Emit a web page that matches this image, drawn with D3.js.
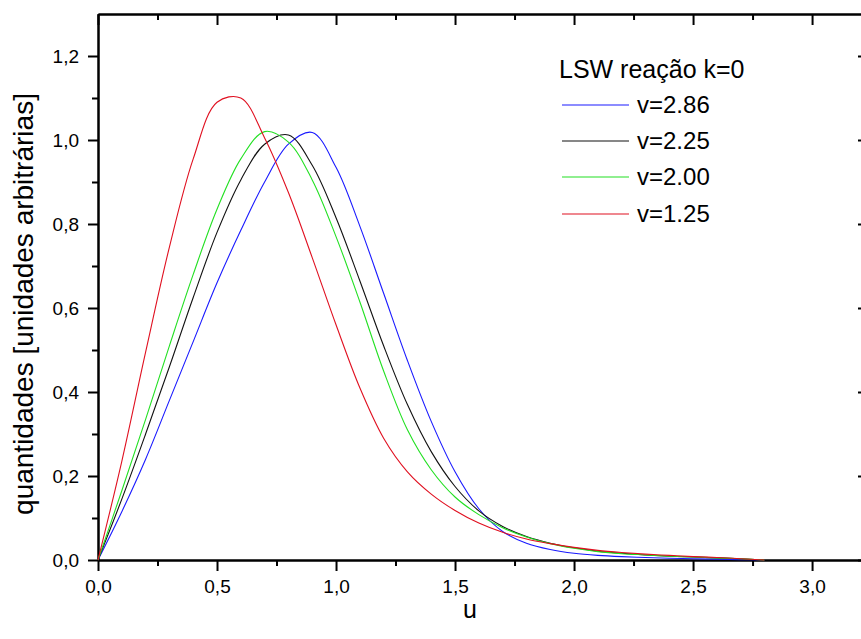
<!DOCTYPE html>
<html>
<head>
<meta charset="utf-8">
<script src="https://cdn.jsdelivr.net/npm/d3@7"></script>
<style>
  body { margin: 0; background: #fff; }
  svg { display: block; font-family: "Liberation Sans", Arial, sans-serif; }
  .axis path, .axis line { stroke: #000; stroke-width: 2; }
  .axis text { fill: #000; font-size: 19px; }
  .curve { fill: none; stroke-width: 1.1; }
</style>
</head>
<body>
<svg id="chart" width="861" height="639"></svg>
<script>
// u grid shared by all series
var uValues = [0, 0.1, 0.2, 0.3, 0.4, 0.5, 0.6, 0.7, 0.8, 0.9,
               1.0, 1.1, 1.2, 1.3, 1.4, 1.5, 1.6, 1.7, 1.8, 1.9,
               2.0, 2.1, 2.2, 2.3, 2.4, 2.5, 2.6, 2.7, 2.8];

// values
var v286 = [0, 0.115, 0.24, 0.38, 0.52, 0.66, 0.785, 0.90, 0.99, 1.018,
            0.935, 0.795, 0.635, 0.475, 0.33, 0.21, 0.122, 0.068, 0.040, 0.025,
            0.016, 0.011, 0.008, 0.006, 0.004, 0.003, 0.002, 0.001, 0];
var v225 = [0, 0.145, 0.30, 0.46, 0.625, 0.78, 0.905, 0.99, 1.012, 0.94,
            0.815, 0.665, 0.51, 0.37, 0.258, 0.175, 0.117, 0.080, 0.056, 0.040,
            0.029, 0.021, 0.016, 0.012, 0.009, 0.007, 0.005, 0.003, 0];
var v200 = [0, 0.165, 0.335, 0.51, 0.68, 0.835, 0.955, 1.02, 0.995, 0.905,
            0.77, 0.615, 0.45, 0.31, 0.215, 0.15, 0.108, 0.077, 0.055, 0.039,
            0.028, 0.020, 0.015, 0.012, 0.009, 0.007, 0.005, 0.003, 0];
var v125 = [0, 0.235, 0.495, 0.745, 0.955, 1.09, 1.10, 1.005, 0.875, 0.72,
            0.56, 0.41, 0.29, 0.21, 0.157, 0.118, 0.088, 0.066, 0.050, 0.039,
            0.030, 0.023, 0.018, 0.014, 0.011, 0.008, 0.006, 0.003, 0];

var seriesNames = ["v=2.86", "v=2.25", "v=2.00", "v=1.25"];
var seriesColors = ["#1a1aff", "#111111", "#22e022", "#e01020"];
var seriesValues = [v286, v225, v200, v125];

var xMajor = [0, 0.5, 1.0, 1.5, 2.0, 2.5, 3.0];
var xMinor = [0.25, 0.75, 1.25, 1.75, 2.25, 2.75];
var yMajor = [0, 0.2, 0.4, 0.6, 0.8, 1.0, 1.2];
var yMinor = [0.1, 0.3, 0.5, 0.7, 0.9, 1.1];

var legendTitle = "LSW reação k=0";
var xLabel = "u";
var yLabel = "quantidades [unidades arbitrárias]";

function drawChart() {
    var plotLeft = 98, plotRight = 868, plotTop = 14, plotBottom = 560;

    var svg = d3.select("#chart");

    var x = d3.scaleLinear().domain([0, 3.235]).range([plotLeft, plotRight]);
    var y = d3.scaleLinear().domain([0, 1.3]).range([plotBottom, plotTop]);

    // decimal comma
    var locale = d3.formatLocale({ decimal: ",", thousands: ".", grouping: [3], currency: ["", ""] });
    var fmt = locale.format(".1f");

    function addAxis(axis, tx, ty) {
        svg.append("g").attr("class", "axis")
            .attr("transform", "translate(" + tx + "," + ty + ")")
            .attr("font-size", null)
            .call(axis);
    }

    // bottom axis (outward ticks)
    addAxis(d3.axisBottom(x).tickValues(xMajor).tickSize(11).tickSizeOuter(0).tickPadding(9).tickFormat(fmt), 0, plotBottom);
    addAxis(d3.axisBottom(x).tickValues(xMinor).tickSize(6).tickSizeOuter(0).tickFormat(""), 0, plotBottom);

    // top axis (inward ticks)
    addAxis(d3.axisBottom(x).tickValues(xMajor).tickSize(11).tickSizeOuter(0).tickFormat(""), 0, plotTop);
    addAxis(d3.axisBottom(x).tickValues(xMinor).tickSize(6).tickSizeOuter(0).tickFormat(""), 0, plotTop);

    // left axis (outward ticks)
    addAxis(d3.axisLeft(y).tickValues(yMajor).tickSize(10).tickSizeOuter(0).tickPadding(9).tickFormat(fmt), plotLeft, 0);
    addAxis(d3.axisLeft(y).tickValues(yMinor).tickSize(6).tickSizeOuter(0).tickFormat(""), plotLeft, 0);

    // right axis (inward ticks), mostly off screen
    addAxis(d3.axisLeft(y).tickValues(yMajor).tickSize(10).tickSizeOuter(0).tickFormat(""), plotRight, 0);
    addAxis(d3.axisLeft(y).tickValues(yMinor).tickSize(6).tickSizeOuter(0).tickFormat(""), plotRight, 0);

    // curves
    var line = d3.line()
        .x(function (d, i) { return x(uValues[i]); })
        .y(function (d) { return y(d); })
        .curve(d3.curveCatmullRom.alpha(0.5));

    seriesValues.forEach(function (vals, i) {
        svg.append("path")
            .attr("class", "curve")
            .attr("d", line(vals))
            .attr("stroke", seriesColors[i]);
    });

    // legend
    svg.append("text")
        .attr("x", 559).attr("y", 78)
        .style("font-size", "25px")
        .text(legendTitle);

    var legendY = [105, 141, 177, 214];
    seriesNames.forEach(function (name, i) {
        svg.append("line")
            .attr("x1", 562).attr("x2", 629)
            .attr("y1", legendY[i]).attr("y2", legendY[i])
            .attr("stroke", seriesColors[i])
            .attr("stroke-width", 1.1);
        svg.append("text")
            .attr("x", 637).attr("y", legendY[i] + 8)
            .style("font-size", "24px")
            .text(name);
    });

    // axis titles
    svg.append("text")
        .attr("x", 470).attr("y", 618)
        .attr("text-anchor", "middle")
        .style("font-size", "25px")
        .text(xLabel);

    svg.append("text")
        .attr("transform", "translate(33,304) rotate(-90)")
        .attr("text-anchor", "middle")
        .style("font-size", "28px")
        .text(yLabel);
}

drawChart();
</script>
</body>
</html>
